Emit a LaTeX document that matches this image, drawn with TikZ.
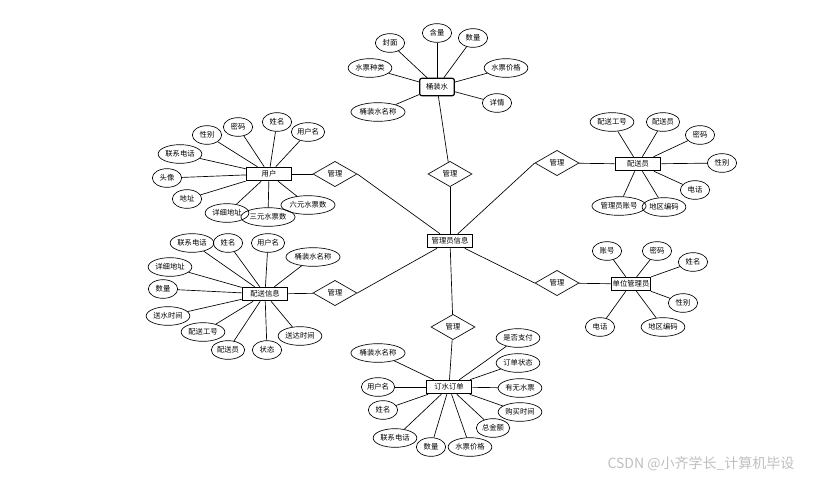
\documentclass[tikz,border=0pt]{standalone}
\usepackage{fontspec}
\newfontfamily\cjk{Noto Sans CJK SC}
\usetikzlibrary{shapes.geometric}

\begin{document}
\begin{tikzpicture}[x=0.75pt,y=-0.75pt,
        every node/.style={font=\cjk\fontsize{5.5}{6}\selectfont},
        attr/.style={ellipse, draw, line width=0.5pt, inner xsep=0.6pt, inner ysep=0.5pt,
          minimum width=22pt, minimum height=14pt},
        ent/.style={rectangle, draw, line width=0.9pt, minimum width=34pt, minimum height=10pt, inner sep=1pt},
        rel/.style={diamond, draw, line width=0.5pt, aspect=1.75, inner sep=0.5pt,
          minimum width=33pt, minimum height=19pt},
        link/.style={line width=0.5pt}
      ]
        \useasboundingbox (0,0) rectangle (813,479);

        % Mitte
        \node[ent] (adm) at (450,241) {管理员信息};
        \node[rel] (rt) at (450,174) {管理};
        \node[rel] (rul) at (335,174) {管理};
        \node[rel] (rdl) at (335,293) {管理};
        \node[rel] (rur) at (557,163) {管理};
        \node[rel] (rdr) at (557,283) {管理};
        \node[rel] (rb) at (453,327) {管理};
        \draw[link] (rt) -- (adm);
        \draw[link] (rul.east) -- (adm);
        \draw[link] (rdl.east) -- (adm);
        \draw[link] (rur.west) -- (adm);
        \draw[link] (rdr.west) -- (adm);
        \draw[link] (rb) -- (adm);

        % Tonnenwasser
        \node[ent, rounded corners=1.5pt, minimum width=26pt, minimum height=13pt] (wat) at (437,87) {桶装水};
        \node[attr] (w1) at (390,43) {封面};
        \node[attr] (w2) at (437,33) {含量};
        \node[attr] (w3) at (473,38) {数量};
        \node[attr] (w4) at (370,68) {水票种类};
        \node[attr] (w5) at (506,68) {水票价格};
        \node[attr] (w6) at (497,103) {详情};
        \node[attr] (w7) at (378,112) {桶装水名称};
        \foreach \a in {w1,w2,w3,w4,w5,w6,w7}
          \draw[link] (\a) -- (wat);
        \draw[link] (wat) -- (rt);

        % Benutzer
        \node[ent] (usr) at (269,174) {用户};
        \node[attr] (u1) at (207,135) {性别};
        \node[attr] (u2) at (238,127) {密码};
        \node[attr] (u3) at (277,122) {姓名};
        \node[attr] (u4) at (308,132) {用户名};
        \node[attr] (u5) at (180,154) {联系电话};
        \node[attr] (u6) at (167,178) {头像};
        \node[attr] (u7) at (187,199) {地址};
        \node[attr] (u8) at (227,213) {详细地址};
        \node[attr] (u10) at (308,205) {六元水票数};
        \node[attr] (u9) at (268,217) {三元水票数};
        \foreach \a in {u1,u2,u3,u4,u5,u6,u7,u8,u9,u10}
          \draw[link] (\a) -- (usr);
        \draw[link] (usr) -- (rul);

        % Lieferinfo
        \node[ent] (dlv) at (265,294) {配送信息};
        \node[attr] (d1) at (192,243) {联系电话};
        \node[attr] (d2) at (228,243) {姓名};
        \node[attr] (d3) at (268,243) {用户名};
        \node[attr] (d4) at (313,257) {桶装水名称};
        \node[attr] (d5) at (170,267) {详细地址};
        \node[attr] (d6) at (163,289) {数量};
        \node[attr] (d7) at (168,316) {送水时间};
        \node[attr] (d8) at (203,332) {配送工号};
        \node[attr] (d9) at (228,350) {配送员};
        \node[attr] (d10) at (267,350) {状态};
        \node[attr] (d11) at (300,336) {送达时间};
        \foreach \a in {d1,d2,d3,d4,d5,d6,d7,d8,d9,d10,d11}
          \draw[link] (\a) -- (dlv);
        \draw[link] (dlv) -- (rdl);

        % Lieferant
        \node[ent] (crr) at (638,164) {配送员};
        \node[attr] (c1) at (612,122) {配送工号};
        \node[attr] (c2) at (663,122) {配送员};
        \node[attr] (c3) at (700,135) {密码};
        \node[attr] (c4) at (722,163) {性别};
        \node[attr] (c5) at (695,190) {电话};
        \node[attr] (c7) at (664,207) {地区编码};
        \node[attr] (c6) at (619,206) {管理员账号};
        \foreach \a in {c1,c2,c3,c4,c5,c6,c7}
          \draw[link] (\a) -- (crr);
        \draw[link] (crr) -- (rur);

        % Einheitsverwalter
        \node[ent, minimum width=27pt] (unt) at (631,284) {单位管理员};
        \node[attr] (m1) at (607,251) {账号};
        \node[attr] (m2) at (657,251) {密码};
        \node[attr] (m3) at (693,262) {姓名};
        \node[attr] (m4) at (683,303) {性别};
        \node[attr] (m5) at (600,327) {电话};
        \node[attr] (m6) at (663,327) {地区编码};
        \foreach \a in {m1,m2,m3,m4,m5,m6}
          \draw[link] (\a) -- (unt);
        \draw[link] (unt) -- (rdr);

        % Bestellung
        \node[ent] (ord) at (449,387) {订水订单};
        \node[attr] (o1) at (378,353) {桶装水名称};
        \node[attr] (o2) at (378,387) {用户名};
        \node[attr] (o3) at (383,410) {姓名};
        \node[attr] (o4) at (395,438) {联系电话};
        \node[attr] (o5) at (431,447) {数量};
        \node[attr] (o6) at (470,447) {水票价格};
        \node[attr] (o7) at (493,428) {总金额};
        \node[attr] (o8) at (520,412) {购买时间};
        \node[attr] (o9) at (520,388) {有无水票};
        \node[attr] (o10) at (518,363) {订单状态};
        \node[attr] (o11) at (518,338) {是否支付};
        \foreach \a in {o1,o2,o3,o4,o5,o6,o7,o8,o9,o10,o11}
          \draw[link] (\a) -- (ord);
        \draw[link] (ord) -- (rb);

        % Wasserzeichen
        \node[text=black!25, font=\cjk\fontsize{10.5}{12}\selectfont] (mark) at (701,464) {CSDN @小齐学长\_计算机毕设};
      \end{tikzpicture}
\end{document}
